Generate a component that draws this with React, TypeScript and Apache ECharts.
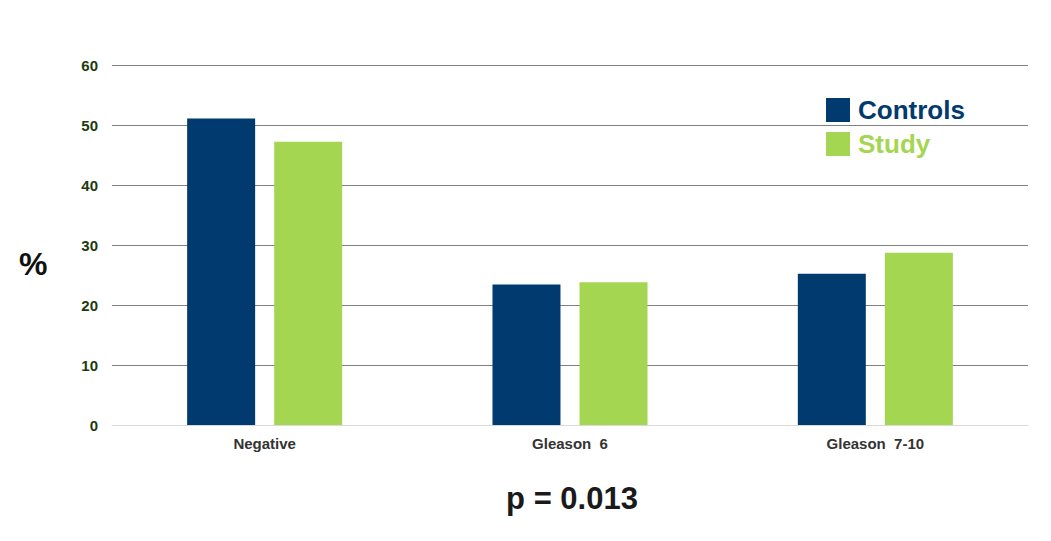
import React, { useEffect, useRef } from "react";
import * as echarts from "echarts";

const categories = ["Negative", "Gleason  6", "Gleason  7-10"];
const controls = [51.1, 23.4, 25.2];
const study = [47.2, 23.8, 28.7];
const yTicks = { min: 0, max: 60, interval: 10 };

export default function App() {
  const ref = useRef<HTMLDivElement>(null);
  useEffect(() => {
    document.body.style.margin = "0";
    const chart = echarts.init(ref.current!, null, { renderer: "svg" });
    chart.setOption({
      animation: false,
      backgroundColor: "#ffffff",
      textStyle: { fontFamily: "Liberation Sans, Arial, sans-serif" },
      grid: { left: 112, right: 23, top: 65, bottom: 116, containLabel: false },
      legend: {
        orient: "vertical",
        left: 826,
        top: 97,
        padding: 0,
        itemWidth: 24,
        itemHeight: 24,
        itemGap: 8,
        icon: "rect",
        textStyle: { fontSize: 26, fontWeight: "bold", padding: [0, 0, 0, 3] },
        data: [
          { name: "Controls", textStyle: { color: "#013a6e" } },
          { name: "Study", textStyle: { color: "#a4d651" } },
        ],
      },
      xAxis: {
        type: "category",
        data: categories,
        axisLine: { show: true, lineStyle: { color: "#d9d9d9", width: 1 } },
        axisTick: { show: false },
        axisLabel: { color: "#333333", fontSize: 15, fontWeight: "bold", margin: 11 },
      },
      yAxis: {
        type: "value",
        min: yTicks.min,
        max: yTicks.max,
        interval: yTicks.interval,
        axisLine: { show: false },
        axisTick: { show: false },
        axisLabel: { color: "#1c3b0e", fontSize: 15, fontWeight: "bold", margin: 14 },
        splitLine: { lineStyle: { color: "#808080", width: 1 } },
      },
      series: [
        {
          name: "Controls",
          type: "bar",
          data: controls,
          barWidth: 68,
          barGap: "28%",
          itemStyle: { color: "#013a6e" },
        },
        {
          name: "Study",
          type: "bar",
          data: study,
          barWidth: 68,
          barGap: "28%",
          itemStyle: { color: "#a4d651" },
        },
      ],
      graphic: [
        {
          type: "text",
          left: 19,
          top: 248,
          style: { text: "%", fontSize: 32, fontWeight: "bold", fill: "#111111", fontFamily: "Liberation Sans, Arial, sans-serif" },
        },
        {
          type: "text",
          x: 572,
          y: 498,
          style: {
            text: "p = 0.013",
            fontSize: 31,
            fontWeight: "bold",
            fill: "#1a1a1a",
            align: "center",
            verticalAlign: "middle",
            fontFamily: "Liberation Sans, Arial, sans-serif",
          },
        },
      ],
    });
    return () => chart.dispose();
  }, []);
  return <div ref={ref} style={{ width: 1051, height: 541 }} />;
}
